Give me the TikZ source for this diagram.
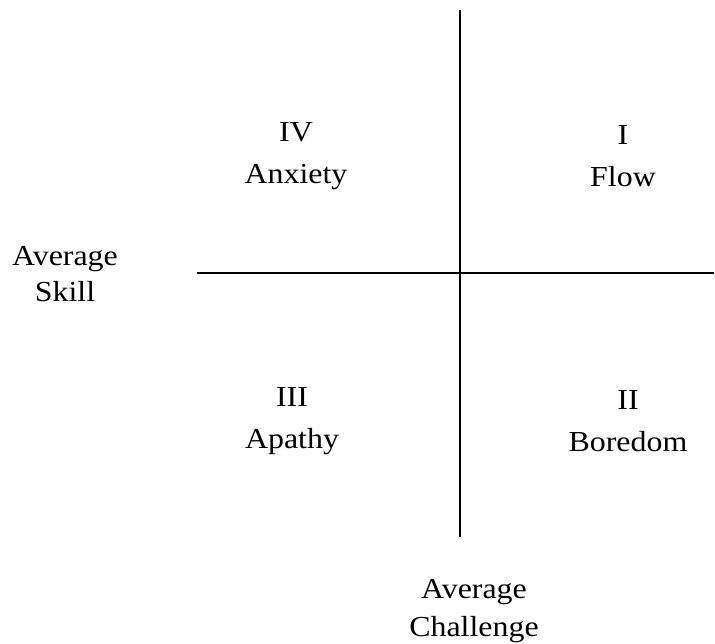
\documentclass[tikz,border=0pt]{standalone}
\usepackage{fontspec}
\setmainfont[FakeStretch=1.1]{Liberation Serif}
\begin{document}
\begin{tikzpicture}[x=1pt,y=-1pt,
  quad/.style={align=center,inner sep=0pt,font=\fontsize{29}{42}\selectfont},
  axislabel/.style={align=center,inner sep=0pt},
  axisline/.style={line width=1.6pt,black}]
\useasboundingbox (0,0) rectangle (715,644);
\coordinate (vtop) at (460,10);
\coordinate (vbot) at (460,537);
\coordinate (hleft) at (197,273);
\coordinate (hright) at (714,273);
\draw[axisline] (vtop) -- (vbot);
\draw[axisline] (hleft) -- (hright);
\node[quad] (q4) at (296,156) {IV\\Anxiety};
\node[quad] (q1) at (623,156) {I\\Flow};
\node[quad] (q3) at (292,421) {III\\Apathy};
\node[quad] (q2) at (628,421) {II\\Boredom};
\node[axislabel,font=\fontsize{29}{36}\selectfont] (skill) at (65,274) {Average\\Skill};
\node[axislabel,font=\fontsize{29}{38}\selectfont] (chal) at (474,611) {Average\\Challenge};
\end{tikzpicture}
\end{document}
